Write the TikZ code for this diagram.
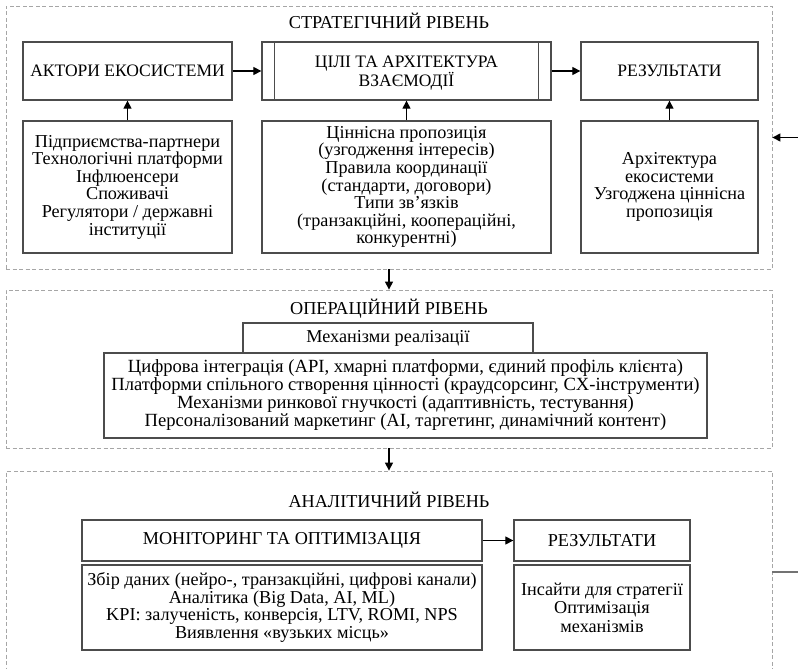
\documentclass[tikz,border=0pt]{standalone}
\usepackage{fontspec}
\setmainfont{Liberation Serif}
\usetikzlibrary{arrows.meta}
\begin{document}
\begin{tikzpicture}[x=1pt,y=-1pt,
  fnt/.style={font=\fontsize{18.2}{17.6}\selectfont},
  hfnt/.style={font=\fontsize{17.5}{18.5}\selectfont},
  box/.style={draw=black!70,line width=1.3pt,align=center,inner sep=0pt,fnt},
  level/.style={draw=black!35,dashed,dash pattern=on 4pt off 2.5pt,line width=0.8pt,inner sep=0pt},
  ttl/.style={fnt,inner sep=0pt},
  arr/.style={draw=black,line width=1.2pt,-{Triangle[length=8pt,width=8pt]}},
  fb/.style={draw=black!55,line width=1.5pt}
]
\useasboundingbox (0,0) rectangle (798,669);
\clip (0,0) rectangle (798,669);

% level containers
\node[level,minimum width=766pt,minimum height=263pt] (strat) at (389,137.5) {};
\node[level,minimum width=766pt,minimum height=158pt] (oper) at (389,369) {};
\node[level,minimum width=766pt,minimum height=202pt] (anal) at (389,572) {};

% strategic level
\node[ttl] (t1) at (389,21) {СТРАТЕГІЧНИЙ РІВЕНЬ};
\node[box,hfnt,minimum width=209pt,minimum height=58pt] (act) at (127.5,71) {АКТОРИ ЕКОСИСТЕМИ};
\node[box,hfnt,minimum width=289pt,minimum height=58pt] (goal) at (406.5,71) {};
\node[hfnt,align=center,inner sep=0pt] (goaltxt) at (406.5,73) {ЦІЛІ ТА АРХІТЕКТУРА\\ВЗАЄМОДІЇ};
\draw[draw=black!70,line width=1.3pt] ([xshift=13pt]goal.north west) -- ([xshift=13pt]goal.south west);
\draw[draw=black!70,line width=1.3pt] ([xshift=-13pt]goal.north east) -- ([xshift=-13pt]goal.south east);
\node[box,hfnt,minimum width=177pt,minimum height=58pt] (res1) at (669.5,71) {РЕЗУЛЬТАТИ};

\node[box,minimum width=209pt,minimum height=132pt] (actl) at (127.5,187) {Підприємства-партнери\\Технологічні платформи\\Інфлюенсери\\Споживачі\\Регулятори / державні\\інституції};
\node[box,minimum width=289pt,minimum height=132pt] (goall) at (406.5,187) {Ціннісна пропозиція\\(узгодження інтересів)\\Правила координації\\(стандарти, договори)\\Типи зв’язків\\(транзакційні, коопераційні,\\конкурентні)};
\node[box,minimum width=177pt,minimum height=132pt] (res1l) at (669.5,187) {Архітектура\\екосистеми\\Узгоджена ціннісна\\пропозиція};

\draw[arr] (act) -- (goal);
\draw[arr] (goal) -- (res1);
\draw[arr] (actl) -- (act);
\draw[arr] (goall) -- (goal);
\draw[arr] (res1l) -- (res1);

% operational level
\node[ttl] (t2) at (389,309) {ОПЕРАЦІЙНИЙ РІВЕНЬ};
\node[box,minimum width=290pt,minimum height=30pt] (mech) at (388,338) {Механізми реалізації};
\node[box,font=\fontsize{18.6}{18}\selectfont,minimum width=603pt,minimum height=85pt] (mechl) at (405.5,395.5) {Цифрова інтеграція (API, хмарні платформи, єдиний профіль клієнта)\\Платформи спільного створення цінності (краудсорсинг, CX-інструменти)\\Механізми ринкової гнучкості (адаптивність, тестування)\\Персоналізований маркетинг (AI, таргетинг, динамічний контент)};

% analytical level
\node[ttl] (t3) at (389,500) {АНАЛІТИЧНИЙ РІВЕНЬ};
\node[box,minimum width=400pt,minimum height=41pt] (mon) at (282,540.5) {МОНІТОРИНГ ТА ОПТИМІЗАЦІЯ};
\node[box,minimum width=176pt,minimum height=41pt] (res2) at (602,540.5) {РЕЗУЛЬТАТИ};
\node[box,minimum width=400pt,minimum height=85pt] (monl) at (282,607.5) {Збір даних (нейро-, транзакційні, цифрові канали)\\Аналітика (Big Data, AI, ML)\\KPI: залученість, конверсія, LTV, ROMI, NPS\\Виявлення «вузьких місць»};
\node[box,font=\fontsize{18.2}{18.5}\selectfont,minimum width=176pt,minimum height=85pt] (res2l) at (602,607.5) {Інсайти для стратегії\\Оптимізація\\механізмів};

\draw[arr] (mon) -- (res2);

% between levels
\draw[arr] (strat) -- (oper);
\draw[arr] (oper) -- (anal);

% feedback loop
\coordinate (fbout) at (798,572);
\coordinate (fbin) at (798,137.5);
\draw[fb] (anal.east) -- (fbout);
\draw[arr] (fbin) -- (strat.east);
\end{tikzpicture}
\end{document}
